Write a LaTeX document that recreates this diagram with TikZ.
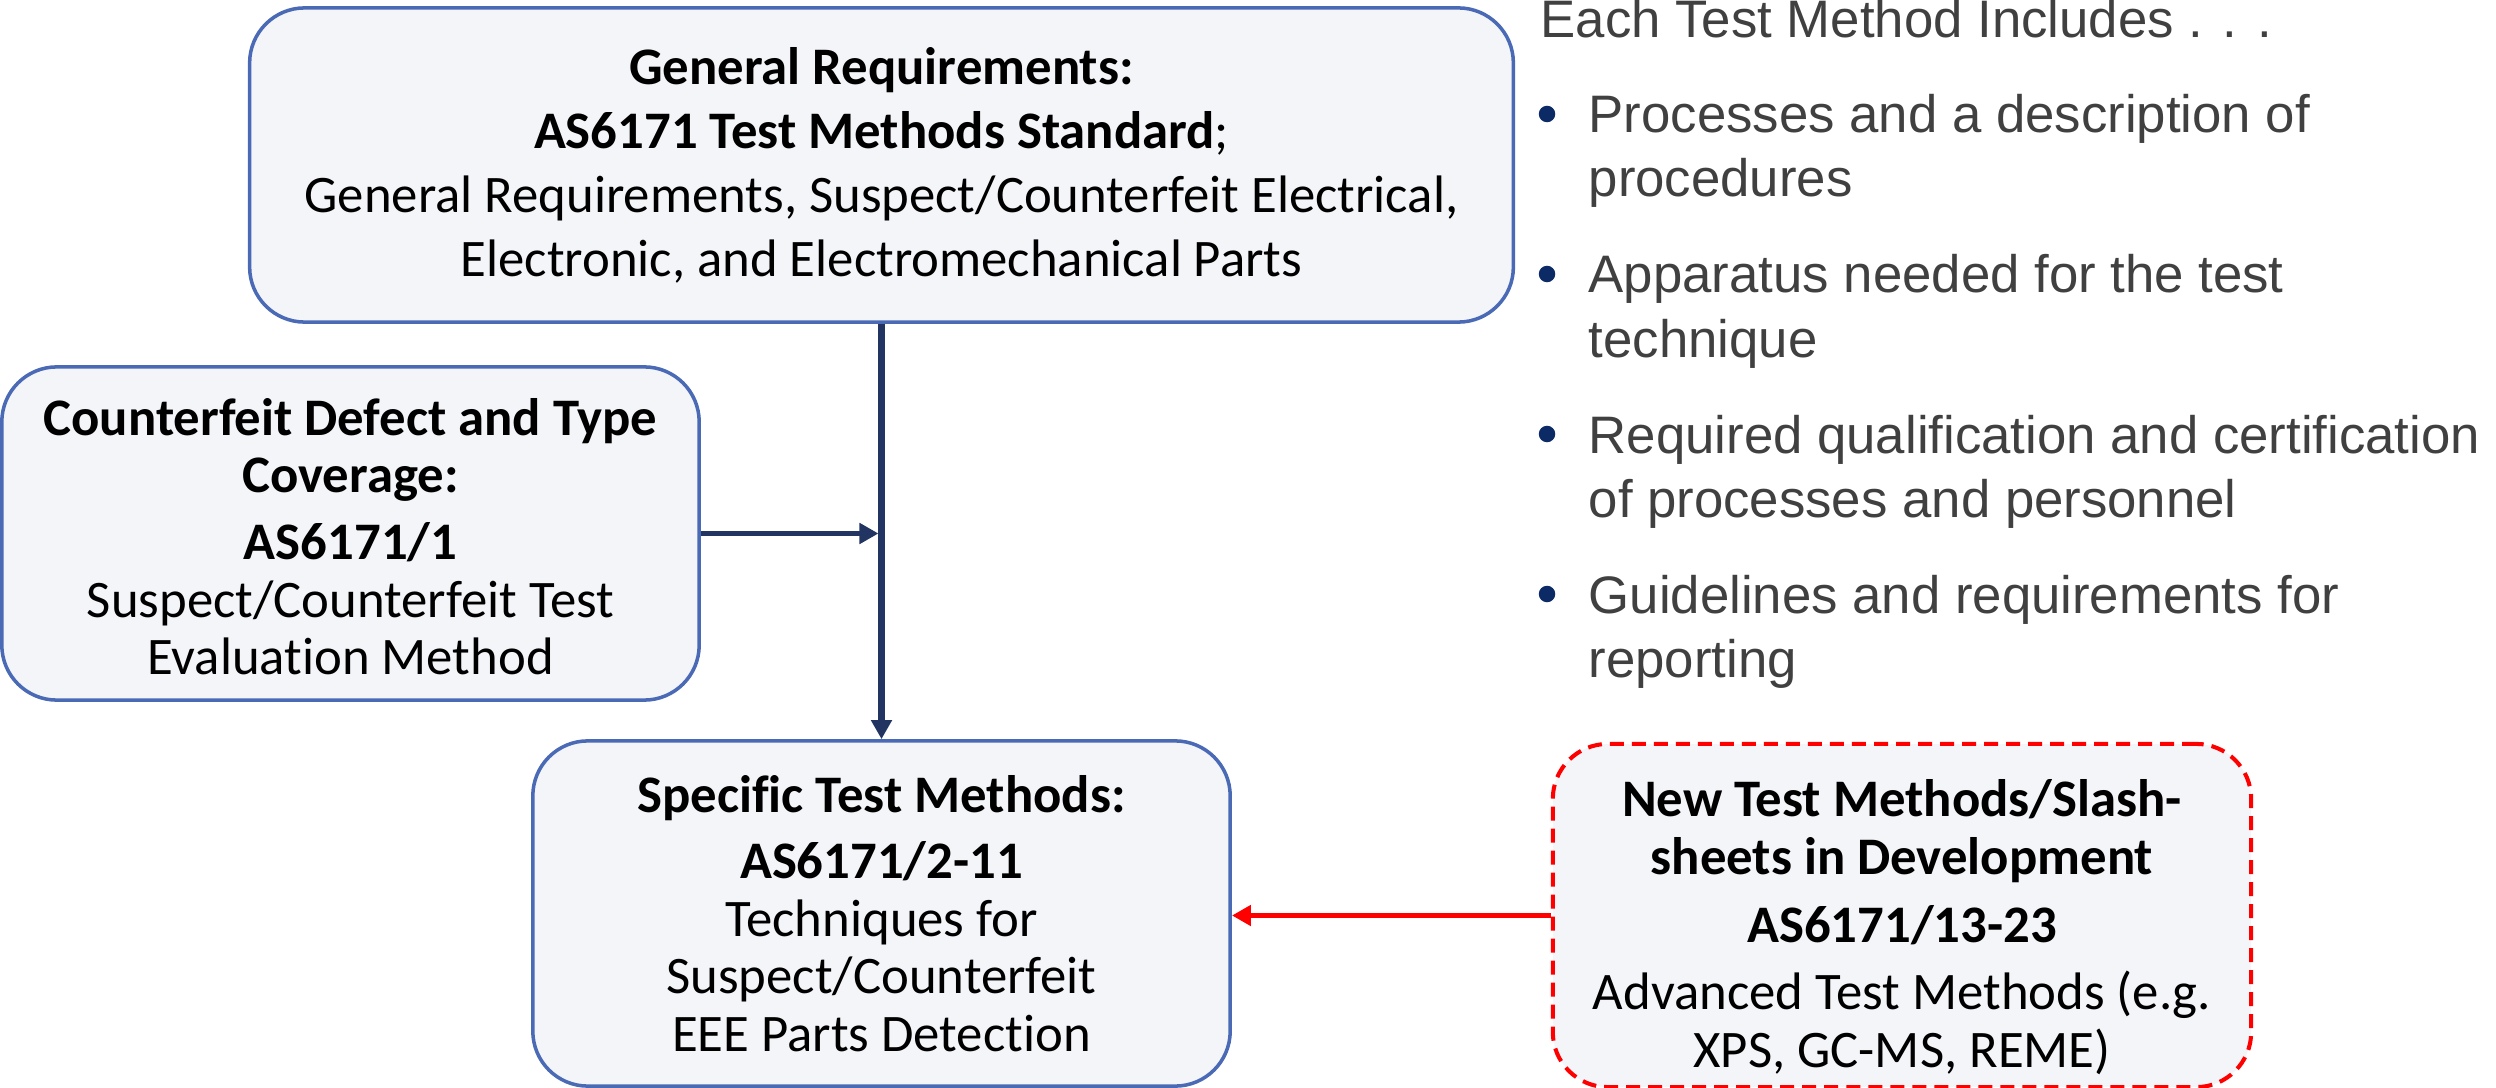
\documentclass[tikz,border=0pt]{standalone}
\usepackage{fontspec}
\setmainfont{Carlito}[Ligatures=NoCommon]
\newfontfamily\arialfont{Liberation Sans}
\usetikzlibrary{arrows.meta}
\definecolor{boxfill}{HTML}{F4F5F9}
\definecolor{boxline}{HTML}{4A6AB5}
\definecolor{navy}{HTML}{223462}
\definecolor{bulletc}{HTML}{0B2A66}
\definecolor{graytext}{HTML}{404040}
\newcommand{\boxtopgap}[1]{\rule{0pt}{#1}}
\newcommand{\boxbotgap}[1]{\rule[-#1]{0pt}{#1}}
\tikzset{
 box/.style={draw=boxline, line width=1pt, fill=boxfill, rounded corners=0.55cm, align=center, inner sep=0pt, text=black},
 normtext/.style={font=\fontsize{15}{16.36}\selectfont},
 toptext/.style={font=\fontsize{15}{18.2}\selectfont},
 newbox/.style={box, draw=red, dash pattern=on 0.14cm off 0.08cm, line width=1.15pt},
 conn/.style={draw=navy, line width=1.5pt, -{Triangle[length=0.19cm,width=0.2cm]}},
 vconn/.style={conn, line width=1.8pt},
 redconn/.style={draw=red, line width=1.5pt, -{Triangle[length=0.19cm,width=0.2cm]}},
 btext/.style={anchor=base west, inner sep=0pt, text=graytext, font=\arialfont\fontsize{15}{18}\selectfont},
 bdot/.style={circle, fill=bulletc, inner sep=0pt, minimum size=0.165cm},
}
\begin{document}
\begin{tikzpicture}[x=0.01cm,y=-0.01cm]
\useasboundingbox (0,0) rectangle (2496,1088);

\node[box, toptext, minimum width=12.63cm, minimum height=3.14cm] (gen) at (881.5,165)
 {\boxtopgap{0.50cm}\textbf{General Requirements:}\\\textbf{AS6171 Test Methods Standard};\\General Requirements, Suspect/Counterfeit Electrical,\\Electronic, and Electromechanical Parts\boxbotgap{0.20cm}};

\node[box, normtext, minimum width=6.97cm, minimum height=3.33cm] (cov) at (350.5,533.5)
 {\boxtopgap{0.63cm}\textbf{Counterfeit Defect and Type}\\\textbf{Coverage:}\\[0.095cm]\textbf{AS6171/1}\\Suspect/Counterfeit Test\\Evaluation Method\boxbotgap{0.20cm}};

\node[box, normtext, minimum width=6.97cm, minimum height=3.45cm] (spec) at (881.5,913.5)
 {\boxtopgap{0.57cm}\textbf{Specific Test Methods:}\\[0.085cm]\textbf{AS6171/2-11}\\Techniques for\\Suspect/Counterfeit\\EEE Parts Detection\boxbotgap{0.20cm}};

\node[newbox, normtext, minimum width=6.98cm, minimum height=3.35cm] (newm) at (1902,915.5)
 {\boxtopgap{0.73cm}\textbf{New Test Methods/Slash-}\\\textbf{sheets in Development}\\[0.1cm]\textbf{AS6171/13-23}\\[0.1cm]Advanced Test Methods (e.g.\\XPS, GC-MS, REME)\boxbotgap{0.20cm}};

\draw[vconn] (gen.south) -- (gen.south |- spec.north);
\draw[conn] (cov.east) -- ([xshift=-0.03cm]cov.east -| gen.south);
\draw[redconn] (newm.west) -- (newm.west -| spec.east);

\node[btext] (hdr) at (1540,38) {Each Test Method Includes . . .};
\node[bdot] (d1) at (1547,114) {};
\node[btext] (i1a) at (1588,133) {Processes and a description of};
\node[btext] (i1b) at (1588,197) {procedures};
\node[bdot] (d2) at (1547,274) {};
\node[btext] (i2a) at (1588,293) {Apparatus needed for the test};
\node[btext] (i2b) at (1588,357) {technique};
\node[bdot] (d3) at (1547,434) {};
\node[btext] (i3a) at (1588,453) {Required qualification and certification};
\node[btext] (i3b) at (1588,517) {of processes and personnel};
\node[bdot] (d4) at (1547,594) {};
\node[btext] (i4a) at (1588,613) {Guidelines and requirements for};
\node[btext] (i4b) at (1588,677) {reporting};
\end{tikzpicture}
\end{document}
